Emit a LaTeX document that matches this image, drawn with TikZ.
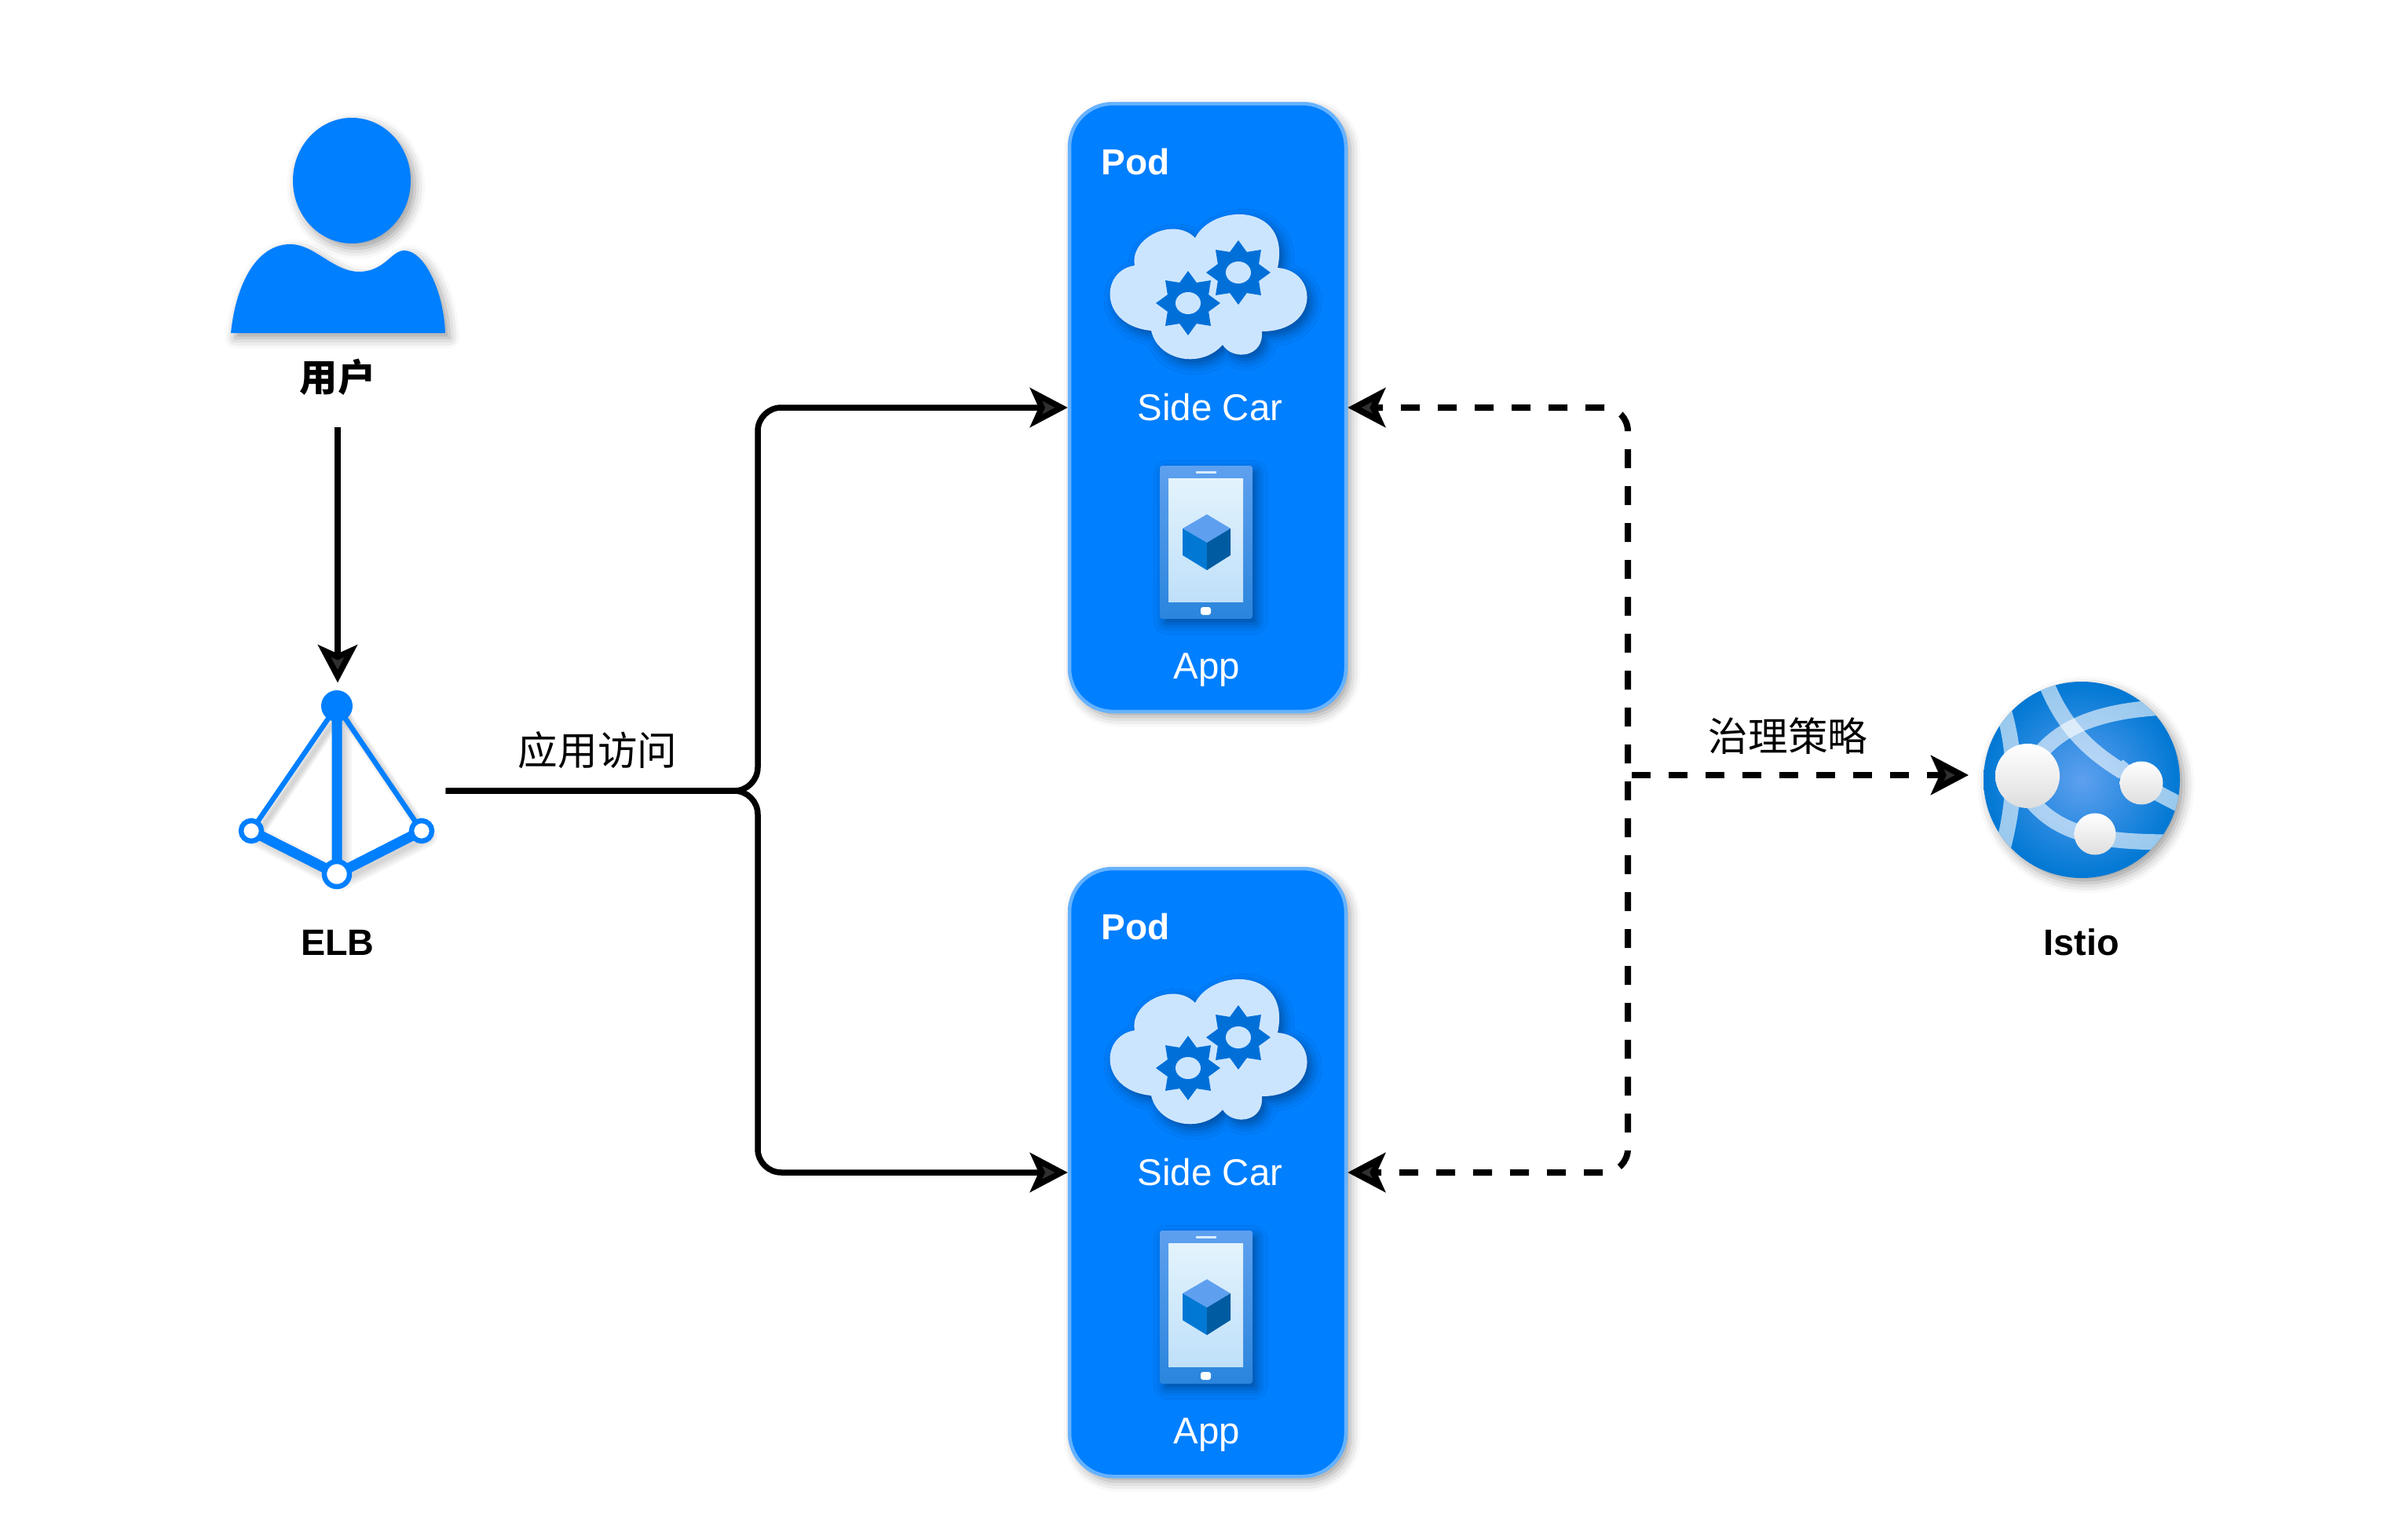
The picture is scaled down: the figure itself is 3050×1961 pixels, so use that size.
\documentclass[tikz,border=0pt]{standalone}
\usepackage{fontspec}
\setmainfont{Liberation Sans}
\newfontfamily\cjk{Noto Sans CJK SC}
\usetikzlibrary{arrows.meta,positioning,shapes.geometric,shadows.blur}
\definecolor{azure}{HTML}{007FFF}
\definecolor{azureedge}{HTML}{66B2FF}
\definecolor{cloudpale}{HTML}{CCE5FF}
\definecolor{cogblue}{HTML}{0070D8}
\definecolor{slatetop}{HTML}{5EA0EF}
\definecolor{slatelow}{HTML}{2A85DC}
\definecolor{screentop}{HTML}{E3F3FC}
\definecolor{screenlow}{HTML}{BFE0FA}
\definecolor{cubeleft}{HTML}{0078D4}
\definecolor{cuberight}{HTML}{005BA1}
\tikzset{softshadow/.style={blur shadow={shadow xshift=.55mm,shadow yshift=-.65mm,shadow blur radius=1.3mm,shadow opacity=38}},
pod/.style={draw=azureedge,line width=.45mm,fill=azure,rounded corners=5.5mm,minimum width=35.2mm,minimum height=77.4mm,inner sep=0pt,softshadow},
podtext/.style={text=white,font=\fontsize{13.5}{16}\selectfont,inner sep=0pt},
caption/.style={font=\fontsize{13.3}{16}\selectfont\bfseries,inner sep=0pt},
zhtext/.style={font=\cjk\fontsize{14.4}{17}\selectfont,inner sep=0pt},
slot/.style={inner sep=0pt,minimum width=#1},
cog/.style={star,star points=8,star point ratio=1.45,fill=cogblue,minimum size=8.2mm,inner sep=0pt},
ball/.style={circle,top color=white,bottom color=black!13,inner sep=0pt,minimum size=#1},
flow/.style={-{Stealth[length=4.8mm,width=5mm,inset=1.1mm]},line width=.75mm,rounded corners=3mm},
policy/.style={flow,line width=.8mm,dash pattern=on 2.4mm off 2.3mm},
sidecar/.pic={
\fill[cloudpale,softshadow] (1445,338) .. controls (1438,303) and (1495,275) .. (1522,303) .. controls (1545,258) and (1645,258) .. (1627,341) .. controls (1680,345) and (1680,422) .. (1607,422) .. controls (1610,455) and (1570,460) .. (1557,439) .. controls (1530,470) and (1475,460) .. (1466,421) .. controls (1400,415) and (1400,345) .. (1445,338) -- cycle;
\node[cog] (-cogl) at (1513,386) {};\node[cog] (-cogr) at (1577,347) {};
\fill[cloudpale] (-cogl.center) ellipse (16 and 14);\fill[cloudpale] (-cogr.center) ellipse (16 and 14);
\node[podtext] (-lbl) at (1541,519) {Side Car};},
appslate/.pic={
\shade[top color=slatetop,bottom color=slatelow,rounded corners=.3mm,softshadow] (1477,593) rectangle (1595,788);
\shade[top color=screentop,bottom color=screenlow] (1488,609) rectangle (1583,766);
\fill[white!85!azure] (1523,600) rectangle (1549,603);
\fill[white,rounded corners=.3mm] (1529,773) rectangle (1542,783);
\fill[slatetop] (1537,655) -- (1567,673) -- (1537,691) -- (1506,673) -- cycle;
\fill[cubeleft] (1506,673) -- (1537,691) -- (1537,726) -- (1506,707) -- cycle;
\fill[cuberight] (1567,673) -- (1537,691) -- (1537,726) -- (1567,707) -- cycle;
\node[podtext] (-lbl) at (1537,853) {App};}}

\begin{document}
\begin{tikzpicture}[x=.1mm,y=-.1mm]
\useasboundingbox (0,0) rectangle (3050,1961);
\node[slot=27.3mm,minimum height=39.2mm] (usr) at (430,347) {};
\node[slot=27.4mm,minimum height=27.4mm] (elb) at (430,1007) {};
\node[pod] (pod1) at (1538,519) {};\node[pod] (pod2) at (1538,1493) {};
\node[circle,inner sep=0pt,minimum size=25mm,inner color=slatetop,outer color=cubeleft,softshadow] (istio) at (2651,993) {};
% user
\fill[azure,softshadow] (448,230) ellipse (75 and 80);
\fill[azure,softshadow] (294,424) .. controls (300,365) and (325,311) .. (370,311) .. controls (400,311) and (425,346) .. (457,346) .. controls (490,346) and (498,319) .. (515,319) .. controls (540,319) and (565,370) .. (567,424) -- cycle;
\node[caption,font=\cjk\fontsize{13.7}{16}\selectfont\bfseries] (usrlbl) at (430,480) {用户};
% load balancer
\foreach \w in {2.6,2,1.4,.8}{\draw[black,opacity=.045,line width=\w mm,line cap=round] (326,1065) -- (435,1120) -- (544,1065) (435,1120) -- (435,905);
\draw[black,opacity=.045,line width=\w mm*.6,line cap=round] (326,1065) -- (435,905) -- (544,1065);}
\draw[azure,line width=.65mm] (320,1058) -- (429,899) -- (537,1058);
\draw[azure,line width=1.3mm] (320,1058) -- (429,1113) -- (537,1058) (429,1113) -- (429,899);
\fill[azure] (429,899) circle (20);
\draw[azure,line width=.65mm,fill=white] (320,1058) circle (13) (537,1058) circle (13);
\draw[azure,line width=.65mm,fill=white] (429,1113) circle (16);
\node[caption] (elblbl) at (430,1200) {ELB};
% pods
\foreach \p/\dy in {1/0,2/974}{
\node[podtext,font=\fontsize{13.1}{16}\selectfont\bfseries,anchor=west] (pod\p lbl) at (1402,{206+\dy}) {Pod};
\pic (car\p) at (0,\dy) {sidecar};\pic (app\p) at (0,\dy) {appslate};}
% istio
\begin{scope}
\clip (2651,993) circle (125);
\draw[white,opacity=.6,line width=2mm] (2602,860) .. controls (2627,930) and (2667,960) .. (2704,983) (2697,975) .. controls (2727,1000) and (2747,1010) .. (2787,1030);
\draw[white,opacity=.6,line width=2mm] (2587,975) .. controls (2617,925) and (2677,900) .. (2787,900);
\draw[white,opacity=.6,line width=2mm] (2547,890) .. controls (2567,950) and (2572,1010) .. (2545,1100);
\draw[white,opacity=.6,line width=2mm] (2587,1020) .. controls (2622,1060) and (2667,1075) .. (2787,1072);
\end{scope}
\node[ball=8.2mm] (ballb) at (2582,988) {};\node[ball=5.5mm] (balla) at (2727,997) {};\node[ball=5.3mm] (ballc) at (2668,1062) {};
\node[caption] (istiolbl) at (2651,1200) {Istio};
% connectors
\coordinate (fork) at (965,1007);\coordinate (busup) at (2073,972);\coordinate (busdown) at (2073,995);
\coordinate (busout) at (2078,987);\coordinate (istioin) at (2507,987);
\draw[flow] (usr.south) -- (elb.north);
\draw[flow] (elb.east) -- (fork) |- (pod1.west);
\draw[flow] (elb.east) -- (fork) |- (pod2.west);
\draw[policy] (busup) |- (pod1.east);\draw[policy] (busdown) |- (pod2.east);
\draw[policy] (busout) -- (istioin);
\node[zhtext] (accesslbl) at (761,955) {应用访问};
\node[zhtext] (policylbl) at (2277,937) {治理策略};
\end{tikzpicture}
\end{document}
